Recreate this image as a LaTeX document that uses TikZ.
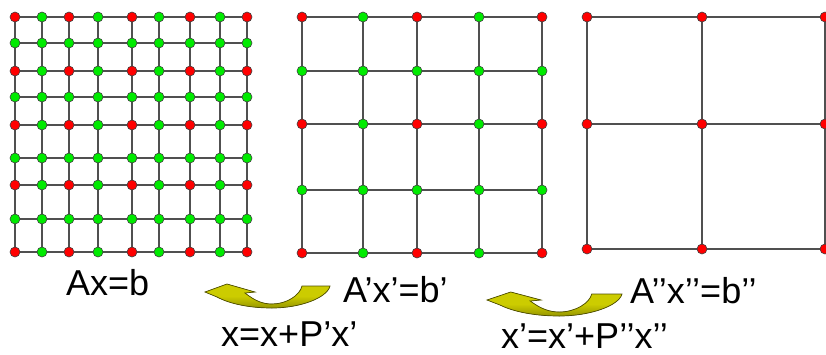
\documentclass[tikz,border=0pt]{standalone}
\usepackage{fontspec}
\setmainfont{Liberation Sans}
\definecolor{gridline}{RGB}{80,80,80}
\definecolor{dotred}{RGB}{255,0,0}
\definecolor{dotgreen}{RGB}{0,235,0}
\definecolor{arrowfill}{RGB}{204,204,0}
\definecolor{arrowdark}{RGB}{150,150,0}
\definecolor{arrowedge}{RGB}{80,80,0}
\tikzset{
  gline/.style = {draw=gridline, line width=1.8pt},
  coarse/.style = {circle, draw=black!75, line width=0.6pt, fill=dotred, inner sep=0pt, minimum size=10pt},
  fine/.style = {circle, draw=black!75, line width=0.6pt, fill=dotgreen, inner sep=0pt, minimum size=10pt},
  eqn/.style = {anchor=base west, inner sep=0pt, font=\fontsize{36}{40}\selectfont},
  arrowstyle/.style = {draw=arrowedge, line width=0.7pt, top color=arrowfill, bottom color=arrowdark, middle color=arrowfill}
}
\newcommand{\prolarrow}[3]{\filldraw[arrowstyle, shift={(#1,#2)}, xscale=#3]
  (0,0) -- (22,-8) -- (50,0) -- (40,1)
  .. controls (50,9) and (58,12) .. (67,12)
  .. controls (82,12) and (95,3) .. (97,-6) -- (125,-6)
  .. controls (122,6) and (95,16) .. (67,16)
  .. controls (45,16) and (25,12) .. (12,5) -- cycle;}

\begin{document}
\begin{tikzpicture}[x=1pt, y=-1pt]
\useasboundingbox (0,0) rectangle (826,354);
% fine grid
\foreach \x [count=\i from 0] in {15,42,69,98,132,159,190,220,247}
  \foreach \y [count=\j from 0] in {17,43,71,97,125,158,185,219,252}
    \coordinate (L-\i-\j) at (\x,\y);
\foreach \i in {0,...,8} {
  \draw[gline] (L-\i-0) -- (L-\i-8);
  \draw[gline] (L-0-\i) -- (L-8-\i);
}
\foreach \i in {0,...,8}
  \foreach \j in {0,...,8} {
    \pgfmathtruncatemacro\odd{mod(\i,2)+mod(\j,2)}
    \ifnum\odd=0 \node[coarse] (Ld-\i-\j) at (L-\i-\j) {};
    \else \node[fine] (Ld-\i-\j) at (L-\i-\j) {};
    \fi
  }
% middle grid
\foreach \x [count=\i from 0] in {302,363,417,479,542}
  \foreach \y [count=\j from 0] in {17,71,124,190,253}
    \coordinate (M-\i-\j) at (\x,\y);
\foreach \i in {0,...,4} {
  \draw[gline] (M-\i-0) -- (M-\i-4);
  \draw[gline] (M-0-\i) -- (M-4-\i);
}
\foreach \i in {0,...,4}
  \foreach \j in {0,...,4} {
    \pgfmathtruncatemacro\odd{mod(\i,2)+mod(\j,2)}
    \ifnum\odd=0 \node[coarse] (Md-\i-\j) at (M-\i-\j) {};
    \else \node[fine] (Md-\i-\j) at (M-\i-\j) {};
    \fi
  }
% coarse grid
\foreach \x [count=\i from 0] in {587,702,825}
  \foreach \y [count=\j from 0] in {17,124,249}
    \coordinate (R-\i-\j) at (\x,\y);
\foreach \i in {0,...,2} {
  \draw[gline] (R-\i-0) -- (R-\i-2);
  \draw[gline] (R-0-\i) -- (R-2-\i);
}
\foreach \i in {0,...,2}
  \foreach \j in {0,...,2}
    \node[coarse] (Rd-\i-\j) at (R-\i-\j) {};
% equations
\node[eqn] (sys0) at (66,295) {Ax=b};
\node[eqn] (sys1) at (343,302) {A’x’=b’};
\node[eqn] (sys2) at (630,303) {A’’x’’=b’’};
\node[eqn] (prol1) at (221,346) {x=x+P’x’};
\node[eqn] (prol2) at (501,348) {x’=x’+P’’x’’};
% prolongation arrows
\prolarrow{205}{292}{1}
\prolarrow{487}{300}{1.08}
\end{tikzpicture}
\end{document}
